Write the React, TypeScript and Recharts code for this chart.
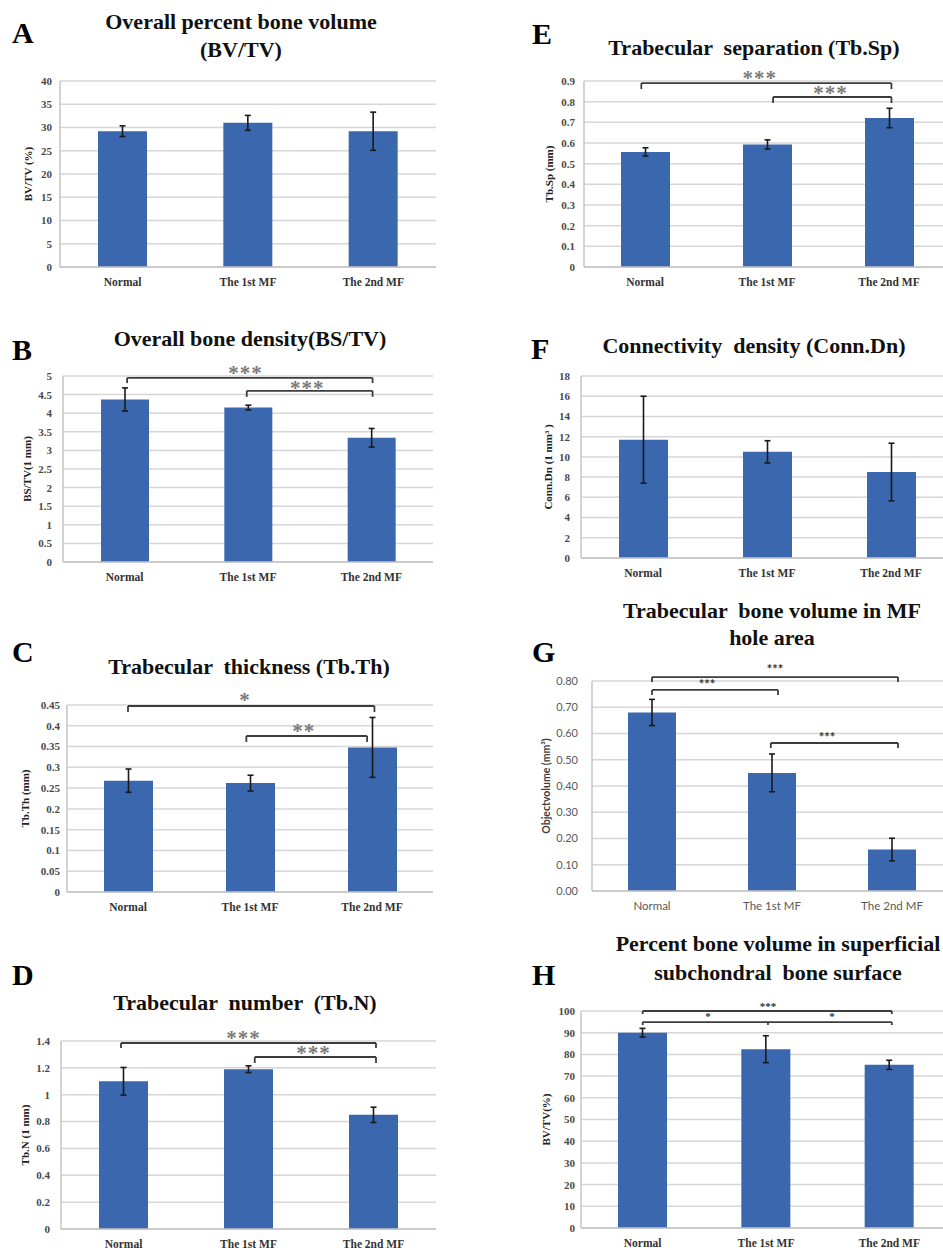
import React from 'react';
import { BarChart, Bar, XAxis, YAxis, CartesianGrid, ErrorBar, ReferenceLine, ReferenceDot } from 'recharts';

// ---------- data ----------
const categories = ['Normal', 'The 1st MF', 'The 2nd MF'];

const bvtvMean = [29.2, 31.0, 29.2];
const bvtvErr = [1.15, 1.6, 4.1];
const bvtvTicks = [0, 5, 10, 15, 20, 25, 30, 35, 40];

const bstvMean = [4.37, 4.15, 3.34];
const bstvErr = [0.31, 0.065, 0.25];
const bstvTicks = [0, 0.5, 1, 1.5, 2, 2.5, 3, 3.5, 4, 4.5, 5];

const tbthMean = [0.268, 0.262, 0.348];
const tbthErr = [0.028, 0.019, 0.072];
const tbthTicks = [0, 0.05, 0.1, 0.15, 0.2, 0.25, 0.3, 0.35, 0.4, 0.45];

const tbnMean = [1.1, 1.19, 0.85];
const tbnErr = [0.103, 0.025, 0.057];
const tbnTicks = [0, 0.2, 0.4, 0.6, 0.8, 1, 1.2, 1.4];

const tbspMean = [0.557, 0.593, 0.721];
const tbspErr = [0.02, 0.022, 0.047];
const tbspTicks = [0, 0.1, 0.2, 0.3, 0.4, 0.5, 0.6, 0.7, 0.8, 0.9];

const connMean = [11.7, 10.5, 8.5];
const connErr = [4.3, 1.1, 2.85];
const connTicks = [0, 2, 4, 6, 8, 10, 12, 14, 16, 18];

const holeMean = [0.68, 0.45, 0.158];
const holeErr = [0.05, 0.072, 0.043];
const holeTicks = [0, 0.1, 0.2, 0.3, 0.4, 0.5, 0.6, 0.7, 0.8];

const surfMean = [90.0, 82.4, 75.2];
const surfErr = [2.0, 6.2, 2.1];
const surfTicks = [0, 10, 20, 30, 40, 50, 60, 70, 80, 90, 100];

// significance brackets (x in category units 0..3, y in data units)
const bstvBrackets = [
  { from: 0.52, to: 2.51, y: 4.95, drop: 4.81 },
  { from: 1.49, to: 2.51, y: 4.6, drop: 4.44 },
];
const bstvStars = [
  { x: 1.48, y: 5.1, text: '***' },
  { x: 1.98, y: 4.7, text: '***' },
];
const tbthBrackets = [
  { from: 0.5, to: 2.52, y: 0.4476, drop: 0.433 },
  { from: 1.47, to: 2.46, y: 0.3754, drop: 0.361 },
];
const tbthStars = [
  { x: 1.46, y: 0.464, text: '*' },
  { x: 1.94, y: 0.389, text: '**' },
];
const tbnBrackets = [
  { from: 0.48, to: 2.52, y: 1.385, drop: 1.348 },
  { from: 1.55, to: 2.52, y: 1.281, drop: 1.236 },
];
const tbnStars = [
  { x: 1.46, y: 1.426, text: '***' },
  { x: 2.02, y: 1.315, text: '***' },
];
const tbspBrackets = [
  { from: 0.47, to: 2.52, y: 0.89, drop: 0.861 },
  { from: 1.55, to: 2.52, y: 0.8226, drop: 0.7935 },
];
const tbspStars = [
  { x: 1.44, y: 0.918, text: '***' },
  { x: 2.02, y: 0.846, text: '***' },
];
const holeBrackets = [
  { from: 0.5, to: 2.55, y: 0.815, drop: 0.796 },
  { from: 0.5, to: 1.55, y: 0.766, drop: 0.747 },
  { from: 1.49, to: 2.55, y: 0.5638, drop: 0.5448 },
];
const holeStars = [
  { x: 1.525, y: 0.8457, text: '***' },
  { x: 0.958, y: 0.7886, text: '***' },
  { x: 1.958, y: 0.5867, text: '***' },
];
const surfBrackets = [
  { from: 0.5, to: 2.52, y: 100, drop: 98.6 },
  { from: 0.5, to: 2.52, y: 94.9, drop: 93.5, mid: 1.516 },
];
const surfStars = [
  { x: 1.516, y: 102.3, text: '***' },
  { x: 1.03, y: 97.7, text: '*' },
  { x: 2.035, y: 97.7, text: '*' },
];

// ---------- styles / layout ----------
const SERIF = '"Liberation Serif", "Times New Roman", serif';
const SANS = 'Lato, "Open Sans", sans-serif';
const BAR = '#3a67ad';
const ML = 70;
const MT = 45;
const MR = 12;
const MB = 30;

const panels = [
  { id: 'A', plot: { left: 60, top: 81, width: 376, height: 186 }, mean: bvtvMean, err: bvtvErr, ticks: bvtvTicks, yLabel: 'BV/TV (%)', labelOffset: 38, tickGap: 8, barSize: 49, brackets: [], stars: [], sans: false, fmt: (v: number) => String(v) },
  { id: 'B', plot: { left: 63, top: 376, width: 370, height: 186 }, mean: bstvMean, err: bstvErr, ticks: bstvTicks, yLabel: 'BS/TV(1 mm)', labelOffset: 34, tickGap: 11, barSize: 48, brackets: bstvBrackets, stars: bstvStars, sans: false, fmt: (v: number) => String(v) },
  { id: 'C', plot: { left: 67, top: 705, width: 366, height: 187 }, mean: tbthMean, err: tbthErr, ticks: tbthTicks, yLabel: 'Tb.Th (mm)', labelOffset: 28, tickGap: 7, barSize: 49, brackets: tbthBrackets, stars: tbthStars, sans: false, fmt: (v: number) => String(v) },
  { id: 'D', plot: { left: 61, top: 1041, width: 375, height: 188 }, mean: tbnMean, err: tbnErr, ticks: tbnTicks, yLabel: 'Tb.N (1 mm)', labelOffset: 34, tickGap: 11, barSize: 49, brackets: tbnBrackets, stars: tbnStars, sans: false, fmt: (v: number) => String(v) },
  { id: 'E', plot: { left: 584, top: 81, width: 366, height: 186 }, mean: tbspMean, err: tbspErr, ticks: tbspTicks, yLabel: 'Tb.Sp (mm)', labelOffset: 35, tickGap: 9, barSize: 49, brackets: tbspBrackets, stars: tbspStars, sans: false, fmt: (v: number) => String(v) },
  { id: 'F', plot: { left: 581, top: 376, width: 372, height: 182 }, mean: connMean, err: connErr, ticks: connTicks, yLabel: 'Conn.Dn (1 mm³ )', labelOffset: 37, tickGap: 11, barSize: 49, brackets: [], stars: [], sans: false, fmt: (v: number) => String(v) },
  { id: 'G', plot: { left: 592, top: 681, width: 360, height: 210 }, mean: holeMean, err: holeErr, ticks: holeTicks, yLabel: 'Objectvolume (mm³)', labelOffset: 24, tickGap: 14, barSize: 48, brackets: holeBrackets, stars: holeStars, sans: true, fmt: (v: number) => v.toFixed(2) },
  { id: 'H', plot: { left: 581, top: 1011, width: 370, height: 217 }, mean: surfMean, err: surfErr, ticks: surfTicks, yLabel: 'BV/TV(%)', labelOffset: 35, tickGap: 6, barSize: 49, brackets: surfBrackets, stars: surfStars, sans: false, small: true, fmt: (v: number) => String(v) },
];

const titles = [
  { lines: ['Overall percent bone volume', '(BV/TV)'], x: 241, y: [29, 57] },
  { lines: ['Overall bone density(BS/TV)'], x: 250, y: [346] },
  { lines: ['Trabecular  thickness (Tb.Th)'], x: 249, y: [674] },
  { lines: ['Trabecular  number  (Tb.N)'], x: 245, y: [1010] },
  { lines: ['Trabecular  separation (Tb.Sp)'], x: 754, y: [55] },
  { lines: ['Connectivity  density (Conn.Dn)'], x: 754, y: [353] },
  { lines: ['Trabecular  bone volume in MF', 'hole area'], x: 772, y: [618, 645] },
  { lines: ['Percent bone volume in superficial', 'subchondral  bone surface'], x: 778, y: [951, 980] },
];

const letters = [
  { t: 'A', x: 12, y: 43 },
  { t: 'B', x: 12, y: 360 },
  { t: 'C', x: 12, y: 662 },
  { t: 'D', x: 12, y: 985 },
  { t: 'E', x: 532, y: 44 },
  { t: 'F', x: 531, y: 359 },
  { t: 'G', x: 532, y: 662 },
  { t: 'H', x: 532, y: 985 },
];

function Panel({ p }: { p: any }) {
  const data = categories.map((name, i) => ({ x: i + 0.5, name, mean: p.mean[i], err: p.err[i] }));
  const font = p.sans ? SANS : SERIF;
  const tickFill = p.sans ? '#595959' : '#4a4a4a';
  const lineColor = '#3c3c3c';
  const starStyle = p.sans
    ? { fontFamily: SANS, fontSize: 13, fontWeight: 'bold', fill: '#333' }
    : p.small
    ? { fontFamily: SERIF, fontSize: 11, fontWeight: 'bold', fill: '#333' }
    : { fontFamily: SERIF, fontSize: 21, fontWeight: 'bold', fill: '#7a7a7a', letterSpacing: 1 };
  const refs: any[] = [];
  p.brackets.forEach((b: any, i: number) => {
    const common = { stroke: lineColor, strokeWidth: 1.8, ifOverflow: 'visible' as const };
    refs.push(<ReferenceLine key={`l${i}`} segment={[{ x: b.from, y: b.drop }, { x: b.from, y: b.y }]} {...common} />);
    refs.push(<ReferenceLine key={`h${i}`} segment={[{ x: b.from, y: b.y }, { x: b.to, y: b.y }]} {...common} />);
    refs.push(<ReferenceLine key={`r${i}`} segment={[{ x: b.to, y: b.y }, { x: b.to, y: b.drop }]} {...common} />);
    if (b.mid !== undefined) {
      refs.push(<ReferenceLine key={`m${i}`} segment={[{ x: b.mid, y: b.y }, { x: b.mid, y: b.drop }]} {...common} />);
    }
  });
  p.stars.forEach((s: any, i: number) => {
    refs.push(
      <ReferenceDot
        key={`s${i}`}
        x={s.x}
        y={s.y}
        r={1}
        fill="none"
        stroke="none"
        ifOverflow="visible"
        label={{ value: s.text, position: 'center', ...starStyle }}
      />
    );
  });
  const w = ML + p.plot.width + MR;
  const h = MT + p.plot.height + MB;
  return (
    <div style={{ position: 'absolute', left: p.plot.left - ML, top: p.plot.top - MT, width: w, height: h }}>
      <BarChart width={w} height={h} data={data} margin={{ top: MT, right: MR, left: 0, bottom: 0 }}>
        <CartesianGrid vertical={false} stroke="#d6d6d6" strokeWidth={1.5} />
        <XAxis
          type="number"
          dataKey="x"
          domain={[0, 3]}
          ticks={[0.5, 1.5, 2.5]}
          interval={0}
          tickFormatter={(v: number) => categories[Math.floor(v)]}
          height={MB}
          tickLine={false}
          tickSize={0}
          tickMargin={11}
          axisLine={{ stroke: '#c4c4c4', strokeWidth: 1.5 }}
          tick={{ fontFamily: font, fontSize: 11.5, fontWeight: p.sans ? 'normal' : 'bold', fill: p.sans ? '#595959' : '#333' }}
        />
        <YAxis
          type="number"
          domain={[0, p.ticks[p.ticks.length - 1]]}
          ticks={p.ticks}
          interval={0}
          width={ML}
          tickLine={false}
          tickSize={0}
          tickMargin={p.tickGap}
          tickFormatter={p.fmt}
          axisLine={{ stroke: '#c4c4c4', strokeWidth: 1.5 }}
          tick={{ fontFamily: font, fontSize: 11, fontWeight: p.sans ? 'normal' : 'bold', fill: tickFill }}
          label={{
            value: p.yLabel,
            angle: -90,
            position: 'insideLeft',
            offset: p.labelOffset,
            fontFamily: font,
            fontSize: p.sans ? 10.5 : 11,
            fontWeight: 'bold',
            fill: p.sans ? '#404040' : '#222',
            style: { textAnchor: 'middle' },
          }}
        />
        <Bar dataKey="mean" fill={BAR} barSize={p.barSize} isAnimationActive={false}>
          <ErrorBar dataKey="err" direction="y" width={3} stroke="#1a1a1a" strokeWidth={1.6} />
        </Bar>
        {refs}
      </BarChart>
    </div>
  );
}

export default function App() {
  return (
    <div style={{ position: 'absolute', left: 0, top: 0, width: 943, height: 1251, overflow: 'hidden', background: '#fff' }}>
      {panels.map((p) => (
        <Panel key={p.id} p={p} />
      ))}
      <svg width={943} height={1251} style={{ position: 'absolute', left: 0, top: 0, pointerEvents: 'none' }}>
        {titles.map((t, i) =>
          t.lines.map((line, j) => (
            <text
              key={`${i}-${j}`}
              x={t.x}
              y={t.y[j]}
              textAnchor="middle"
              fontFamily={SERIF}
              fontWeight="bold"
              fontSize={22}
              fill="#111"
              style={{ whiteSpace: 'pre' }}
            >
              {line}
            </text>
          ))
        )}
        {letters.map((l) => (
          <text key={l.t} x={l.x} y={l.y} fontFamily={SERIF} fontWeight="bold" fontSize={30} fill="#000">
            {l.t}
          </text>
        ))}
      </svg>
    </div>
  );
}
